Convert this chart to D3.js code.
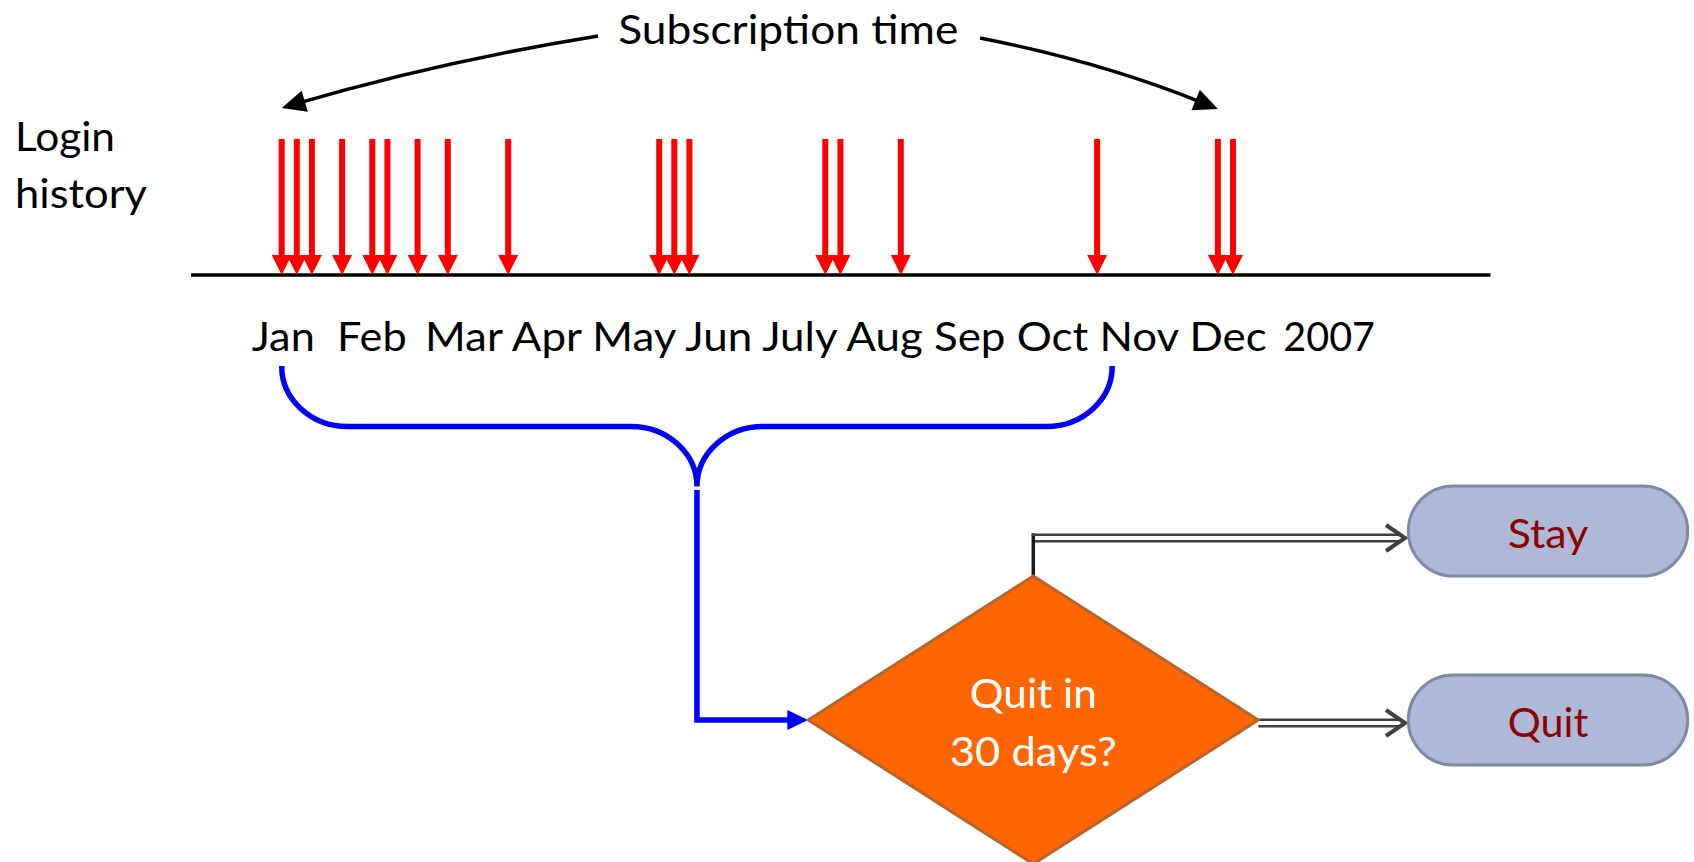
<!DOCTYPE html>
<html>
<head>
<meta charset="utf-8">
<script src="https://cdnjs.cloudflare.com/ajax/libs/d3/7.8.5/d3.min.js"></script>
<style>
body { margin: 0; background: #fff; }
text { font-family: Lato, 'Open Sans', sans-serif; white-space: pre; }
</style>
</head>
<body>
<div id="chart"></div>
<script>
'use strict';

// login events, in days since the start of the subscription (Jan 1)
var loginDays = [0, 5, 10, 20, 30, 35, 45, 55, 75, 125, 130, 135, 180, 185, 205, 270, 310, 315];
var monthLabels = ['Jan', 'Feb', 'Mar', 'Apr', 'May', 'Jun', 'July', 'Aug', 'Sep', 'Oct', 'Nov', 'Dec'];
var yearLabel = '2007';
var subscriptionSpan = [0, 310];   // what the "Subscription time" arrows point at
var observedSpan = [0, 275];       // window gathered by the blue brace
var rowLabels = ['Login', 'history'];
var titleLabel = 'Subscription time';
var decisionLines = ['Quit in', '30 days?'];
var outcomes = ['Stay', 'Quit'];

var diagram = {};
diagram.width = 1694;
diagram.height = 862;
diagram.x = d3.scaleLinear().domain([0, 365]).range([281.7, 1384]);
diagram.axisY = 275;
diagram.red = '#ff0000';
diagram.blue = '#0000ff';
diagram.dark = '#404040';

diagram.appendSvg = function (div)
{
    return d3.select(div).append('svg')
        .attr('width', diagram.width)
        .attr('height', diagram.height);
}

// text stretched to the width measured on the original slide
diagram.label = function (g, str, x, y, w, anchor, color)
{
    return g.append('text')
        .text(str)
        .attr('x', x)
        .attr('y', y)
        .attr('textLength', w)
        .attr('lengthAdjust', 'spacingAndGlyphs')
        .attr('text-anchor', anchor || 'start')
        .attr('font-size', 40)
        .attr('fill', color || '#000');
}

diagram.curvedArrow = function (g, p0, c, p1)
{
    var dx = p1[0] - c[0], dy = p1[1] - c[1];
    var len = Math.sqrt(dx * dx + dy * dy);
    var u = [dx / len, dy / len], n = [-u[1], u[0]];
    var hl = 24, hw = 11;
    var end = [p1[0] - u[0] * hl * 0.6, p1[1] - u[1] * hl * 0.6];
    g.append('path')
        .attr('d', 'M' + p0 + 'Q' + c + ' ' + end)
        .attr('fill', 'none')
        .attr('stroke', '#000')
        .attr('stroke-width', 3.5);
    var b = [p1[0] - u[0] * hl, p1[1] - u[1] * hl];
    g.append('path')
        .attr('d', 'M' + p1 + 'L' + [b[0] + n[0] * hw, b[1] + n[1] * hw] + 'L' + [b[0] - n[0] * hw, b[1] - n[1] * hw] + 'Z')
        .attr('fill', '#000');
}

diagram.appendTimeline = function (svg)
{
    var x = diagram.x;
    var g = svg.append('g').attr('class', 'timeline');

    diagram.label(g, titleLabel, 618.3, 44.3, 340);
    diagram.curvedArrow(g, [598, 36], [438, 62], [x(subscriptionSpan[0]), 108]);
    diagram.curvedArrow(g, [980, 38], [1102, 62], [x(subscriptionSpan[1]), 109]);

    diagram.label(g, rowLabels[0], 15, 151, 100);
    diagram.label(g, rowLabels[1], 15, 208, 132);

    g.append('line')
        .attr('x1', 191).attr('x2', 1490.5)
        .attr('y1', diagram.axisY).attr('y2', diagram.axisY)
        .attr('stroke', '#000')
        .attr('stroke-width', 3.5);

    var arrows = g.selectAll('g.login').data(loginDays).enter()
        .append('g').attr('class', 'login');
    arrows.append('line')
        .attr('x1', function (d) { return x(d); })
        .attr('x2', function (d) { return x(d); })
        .attr('y1', 139)
        .attr('y2', 257)
        .attr('stroke', diagram.red)
        .attr('stroke-width', 6);
    arrows.append('path')
        .attr('d', function (d) {
            var cx = x(d);
            return 'M' + (cx - 10) + ',255L' + (cx + 10) + ',255L' + cx + ',' + (diagram.axisY) + 'Z';
        })
        .attr('fill', diagram.red);

    // the slide had double spaces after Jan and Feb
    diagram.label(g, monthLabels.slice(0, 2).join('  '), 251.7, 351, 155);
    diagram.label(g, monthLabels.slice(2).join(' '), 425, 351, 841.7);
    diagram.label(g, yearLabel, 1283.3, 351, 91.7);
}

diagram.appendBrace = function (svg)
{
    var x = diagram.x;
    var L = x(observedSpan[0]), R = x(observedSpan[1]), M = (L + R) / 2;
    var rx = 66, ry = 60, y0 = 366, y1 = 426.5, y2 = 486.5;
    var arc = function (sweep, px, py) { return 'A' + rx + ',' + ry + ' 0 0 ' + sweep + ' ' + px + ',' + py; };
    var d = 'M' + L + ',' + y0 + arc(0, L + rx, y1) + 'H' + (M - rx) + arc(1, M, y2) +
        arc(1, M + rx, y1) + 'H' + (R - rx) + arc(0, R, y0);
    var g = svg.append('g').attr('class', 'brace');
    g.append('path')
        .attr('d', d)
        .attr('fill', 'none')
        .attr('stroke', diagram.blue)
        .attr('stroke-width', 5.5);
    g.append('path')
        .attr('d', 'M' + M + ',490V720H790')
        .attr('fill', 'none')
        .attr('stroke', diagram.blue)
        .attr('stroke-width', 5.5);
    g.append('path')
        .attr('d', 'M787.3,710L808.3,720L787.3,730Z')
        .attr('fill', diagram.blue);
    return M;
}

diagram.appendFlow = function (svg)
{
    var g = svg.append('g').attr('class', 'flow');
    var cx = 1033.3, cy = 720, hw = 225, hh = 144;

    // connectors first so the diamond covers their ends
    g.append('line')
        .attr('x1', cx).attr('x2', cx).attr('y1', 583).attr('y2', 533.2)
        .attr('stroke', '#1a1a1a').attr('stroke-width', 3.5);
    var rails = [[cx - 1.6, 534.7], [cx + 1.7, 541.3], [cx + hw, 719.7], [cx + hw, 726.3]];
    g.selectAll('line.rail').data(rails).enter()
        .append('line').attr('class', 'rail')
        .attr('x1', function (d) { return d[0]; })
        .attr('x2', 1401)
        .attr('y1', function (d) { return d[1]; })
        .attr('y2', function (d) { return d[1]; })
        .attr('stroke', diagram.dark)
        .attr('stroke-width', 2.6);
    g.selectAll('path.chev').data([538, 723]).enter()
        .append('path').attr('class', 'chev')
        .attr('d', function (y) { return 'M1386,' + (y - 13) + 'L1405,' + y + 'L1386,' + (y + 13); })
        .attr('fill', 'none')
        .attr('stroke', diagram.dark)
        .attr('stroke-width', 4);

    g.append('path')
        .attr('d', 'M' + (cx - hw) + ',' + cy + 'L' + cx + ',' + (cy - hh) + 'L' + (cx + hw) + ',' + cy + 'L' + cx + ',' + (cy + hh) + 'Z')
        .attr('fill', '#ff6600')
        .attr('stroke', '#b5652c')
        .attr('stroke-width', 3);
    diagram.label(g, decisionLines[0], cx, 708.3, 127, 'middle', '#fff');
    diagram.label(g, decisionLines[1], cx, 765.7, 167, 'middle', '#fff');

    var boxes = g.selectAll('g.outcome').data(outcomes).enter()
        .append('g').attr('class', 'outcome')
        .attr('transform', function (d, i) { return 'translate(1408.3,' + (486 + i * 189) + ')'; });
    boxes.append('rect')
        .attr('width', 279.4)
        .attr('height', 90)
        .attr('rx', 45)
        .attr('fill', '#adb9d6')
        .attr('stroke', '#7f8aa4')
        .attr('stroke-width', 3);
    boxes.each(function (d) {
        diagram.label(d3.select(this), d, 139.7, 62.3, 80.5, 'middle', '#8b0000');
    });
}

var svg = diagram.appendSvg('#chart');
diagram.appendTimeline(svg);
diagram.appendBrace(svg);
diagram.appendFlow(svg);
</script>
</body>
</html>
